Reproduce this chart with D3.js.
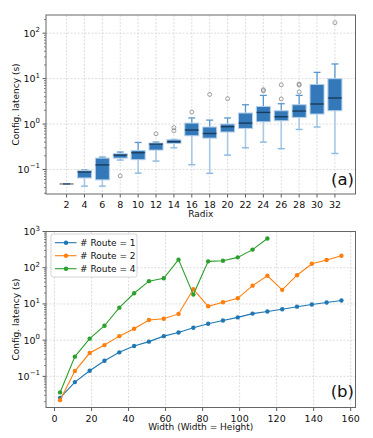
<!DOCTYPE html>
<html>
<head>
<meta charset="utf-8">
<script src="https://cdn.jsdelivr.net/npm/d3@7"></script>
<style>
  body { margin: 0; background: #fff; }
  text { font-family: "DejaVu Sans", sans-serif; fill: #111; }
</style>
</head>
<body>
<svg width="373" height="438"></svg>
<script>
  // ---- data: (a) box plot per radix ----
  const radix    = [2, 4, 6, 8, 10, 12, 14, 16, 18, 20, 22, 24, 26, 28, 30, 32];
  const whiskLo  = [0.048, 0.043, 0.043, 0.161, 0.083, 0.153, 0.30, 0.127, 0.082, 0.207, 0.30, 0.40, 0.286, 0.76, 0.86, 0.225];
  const boxQ1    = [0.048, 0.065, 0.059, 0.178, 0.164, 0.267, 0.374, 0.552, 0.49, 0.667, 0.80, 1.12, 1.18, 1.40, 1.66, 1.96];
  const boxMed   = [0.048, 0.088, 0.126, 0.207, 0.233, 0.363, 0.408, 0.738, 0.62, 0.873, 1.05, 1.80, 1.45, 1.93, 2.76, 3.74];
  const boxQ3    = [0.048, 0.094, 0.178, 0.222, 0.262, 0.381, 0.451, 1.05, 0.86, 1.00, 1.75, 2.44, 1.96, 2.66, 7.45, 9.95];
  const whiskHi  = [0.048, 0.097, 0.187, 0.242, 0.393, 0.40, 0.458, 1.36, 1.22, 1.36, 2.66, 4.27, 2.8, 4.27, 13.7, 21];
  const fliers   = [[], [], [], [0.072], [], [0.61], [0.71, 0.83], [1.84], [4.49], [3.61], [], [5.4, 5.7], [3.56, 7.3], [5.07, 7.2, 7.6], [], [170]];

  // ---- data: (b) latency vs width ----
  const widths  = [3, 11, 19, 27, 35, 43, 51, 59, 67, 75, 83, 91, 99, 107, 115, 123, 131, 139, 147, 155];
  const route1  = [0.0255, 0.0695, 0.143, 0.27, 0.46, 0.69, 0.91, 1.29, 1.63, 2.2, 2.84, 3.5, 4.25, 5.4, 6.2, 7.1, 8.4, 9.6, 10.9, 12.4];
  const route2  = [0.022, 0.14, 0.44, 0.73, 1.29, 2.06, 3.6, 3.9, 5.3, 25.5, 8.6, 11.1, 14.3, 32, 60, 24.5, 62, 129, 163, 215];
  const route4  = [0.036, 0.35, 1.1, 2.5, 7.9, 19.7, 42.5, 51, 167, 18.1, 150, 156, 193, 316, 640];
  const routeNames  = ['# Route = 1', '# Route = 2', '# Route = 4'];
  const routeColors = ['#1f77b4', '#ff7f0e', '#2ca02c'];

  const svg = d3.select('svg');

  // shared helpers for the log y axis + frame
  const drawFrame = (x, y, xTicks, yDecades, xLabel) => {
    const [x0, x1] = x.range();
    const [y0, y1] = y.range();
    const g = svg.append('g');

    // grid
    g.selectAll('.vgrid').data(xTicks).enter().append('line')
      .attr('x1', d => x(d)).attr('x2', d => x(d))
      .attr('y1', y1).attr('y2', y0)
      .attr('stroke', '#d4d4d4').attr('stroke-width', 0.8)
      .attr('stroke-dasharray', '2,1.5');
    g.selectAll('.hgrid').data(yDecades).enter().append('line')
      .attr('x1', x0).attr('x2', x1)
      .attr('y1', d => y(Math.pow(10, d))).attr('y2', d => y(Math.pow(10, d)))
      .attr('stroke', '#d4d4d4').attr('stroke-width', 0.8)
      .attr('stroke-dasharray', '2,1.5');

    // minor ticks on log axis
    const [lo, hi] = y.domain();
    const minors = [];
    for (let e = Math.floor(Math.log10(lo)); e <= Math.ceil(Math.log10(hi)); e++) {
      for (let m = 2; m <= 9; m++) {
        const v = m * Math.pow(10, e);
        if (v >= lo && v <= hi) minors.push(v);
      }
    }
    g.selectAll('.minor').data(minors).enter().append('line')
      .attr('x1', x0).attr('x2', x0 - 2)
      .attr('y1', d => y(d)).attr('y2', d => y(d))
      .attr('stroke', '#333').attr('stroke-width', 0.6);

    // major y ticks
    g.selectAll('.ymaj').data(yDecades).enter().append('line')
      .attr('x1', x0).attr('x2', x0 - 3.5)
      .attr('y1', d => y(Math.pow(10, d))).attr('y2', d => y(Math.pow(10, d)))
      .attr('stroke', '#333').attr('stroke-width', 0.8);
    const yl = g.selectAll('.ylab').data(yDecades).enter().append('text')
      .attr('x', x0 - 6).attr('y', d => y(Math.pow(10, d)) + 3.5)
      .attr('text-anchor', 'end').attr('font-size', 9.5);
    yl.append('tspan').text('10');
    yl.append('tspan').attr('dy', -4.5).attr('font-size', 7)
      .text(d => String(d).replace('-', '\u2212'));

    // x ticks
    g.selectAll('.xmaj').data(xTicks).enter().append('line')
      .attr('x1', d => x(d)).attr('x2', d => x(d))
      .attr('y1', y0).attr('y2', y0 + 3.5)
      .attr('stroke', '#333').attr('stroke-width', 0.8);
    g.selectAll('.xlab').data(xTicks).enter().append('text')
      .attr('x', d => x(d)).attr('y', y0 + 14)
      .attr('text-anchor', 'middle').attr('font-size', 9.5)
      .text(d => d);

    g.append('text').attr('x', (x0 + x1) / 2).attr('y', y0 + 22.5)
      .attr('text-anchor', 'middle').attr('font-size', 9).text(xLabel);
    g.append('text')
      .attr('transform', `translate(19,${(y0 + y1) / 2}) rotate(-90)`)
      .attr('text-anchor', 'middle').attr('font-size', 9)
      .text('Config. latency (s)');
    return g;
  };

  const drawSpines = (x, y) => {
    const [x0, x1] = x.range();
    const [y0, y1] = y.range();
    svg.append('rect').attr('x', x0).attr('y', y1)
      .attr('width', x1 - x0).attr('height', y0 - y1)
      .attr('fill', 'none').attr('stroke', '#666').attr('stroke-width', 1);
  };

  // ---------------- (a) ----------------
  const xA = d3.scaleLinear().domain([-0.3, 34.3]).range([46, 355.5]);
  const yA = d3.scaleLog().domain([Math.pow(10, -1.54), Math.pow(10, 2.4)]).range([194, 15]);
  drawFrame(xA, yA, radix, [-1, 0, 1, 2], 'Radix');

  const boxW = 14, capW = 7;
  const boxes = svg.append('g').selectAll('g').data(radix).enter().append('g');
  // lower whisker (lighter)
  boxes.append('line')
    .attr('x1', d => xA(d)).attr('x2', d => xA(d))
    .attr('y1', (d, i) => yA(boxQ1[i])).attr('y2', (d, i) => yA(whiskLo[i]))
    .attr('stroke', '#a9c9e6').attr('stroke-width', 1.6);
  boxes.append('line')
    .attr('x1', d => xA(d) - capW / 2).attr('x2', d => xA(d) + capW / 2)
    .attr('y1', (d, i) => yA(whiskLo[i])).attr('y2', (d, i) => yA(whiskLo[i]))
    .attr('stroke', '#8cb8df').attr('stroke-width', 1.4);
  // upper whisker
  boxes.append('line')
    .attr('x1', d => xA(d)).attr('x2', d => xA(d))
    .attr('y1', (d, i) => yA(boxQ3[i])).attr('y2', (d, i) => yA(whiskHi[i]))
    .attr('stroke', '#5b97cd').attr('stroke-width', 1.3);
  boxes.append('line')
    .attr('x1', d => xA(d) - capW / 2).attr('x2', d => xA(d) + capW / 2)
    .attr('y1', (d, i) => yA(whiskHi[i])).attr('y2', (d, i) => yA(whiskHi[i]))
    .attr('stroke', '#5b97cd').attr('stroke-width', 1.3);
  // box
  boxes.append('rect')
    .attr('x', d => xA(d) - boxW / 2).attr('width', boxW)
    .attr('y', (d, i) => yA(boxQ3[i]))
    .attr('height', (d, i) => yA(boxQ1[i]) - yA(boxQ3[i]))
    .attr('fill', '#3378b8').attr('stroke', '#b5d1ea').attr('stroke-width', 1);
  // median
  boxes.append('line')
    .attr('x1', d => xA(d) - boxW / 2).attr('x2', d => xA(d) + boxW / 2)
    .attr('y1', (d, i) => yA(boxMed[i])).attr('y2', (d, i) => yA(boxMed[i]))
    .attr('stroke', '#000').attr('stroke-opacity', 0.5).attr('stroke-width', 1.4);
  // fliers
  boxes.each(function (d, i) {
    d3.select(this).selectAll('circle').data(fliers[i]).enter().append('circle')
      .attr('cx', xA(d)).attr('cy', v => yA(v)).attr('r', 2)
      .attr('fill', 'none').attr('stroke', '#888').attr('stroke-width', 0.8);
  });
  drawSpines(xA, yA);
  svg.append('text').attr('x', 354).attr('y', 185)
    .attr('text-anchor', 'end').attr('font-size', 16.5).text('(a)');

  // ---------------- (b) ----------------
  const xB = d3.scaleLinear().domain([-4.6, 162.6]).range([46, 355.5]);
  const yB = d3.scaleLog().domain([Math.pow(10, -1.86), 1000]).range([407.5, 231.5]);
  drawFrame(xB, yB, [0, 20, 40, 60, 80, 100, 120, 140, 160], [-1, 0, 1, 2, 3], 'Width (Width = Height)');

  const series = [route1, route2, route4];
  const line = d3.line().x(d => xB(d[0])).y(d => yB(d[1]));
  series.forEach((vals, k) => {
    const pts = vals.map((v, i) => [widths[i], v]);
    const g = svg.append('g');
    g.append('path').attr('d', line(pts))
      .attr('fill', 'none').attr('stroke', routeColors[k]).attr('stroke-width', 1.1);
    g.selectAll('circle').data(pts).enter().append('circle')
      .attr('cx', d => xB(d[0])).attr('cy', d => yB(d[1])).attr('r', 2.2)
      .attr('fill', routeColors[k]);
  });
  drawSpines(xB, yB);

  // legend
  const lg = svg.append('g').attr('transform', 'translate(51,234)');
  lg.append('rect').attr('width', 86).attr('height', 43).attr('rx', 2)
    .attr('fill', '#fff').attr('fill-opacity', 0.85)
    .attr('stroke', '#ccc').attr('stroke-width', 0.8);
  routeNames.forEach((name, k) => {
    const yy = 8.7 + k * 13;
    lg.append('line').attr('x1', 4).attr('x2', 25.5).attr('y1', yy).attr('y2', yy)
      .attr('stroke', routeColors[k]).attr('stroke-width', 1.1);
    lg.append('circle').attr('cx', 15).attr('cy', yy).attr('r', 2.2).attr('fill', routeColors[k]);
    lg.append('text').attr('x', 29).attr('y', yy + 3.3).attr('font-size', 9).text(name);
  });

  svg.append('text').attr('x', 354).attr('y', 397)
    .attr('text-anchor', 'end').attr('font-size', 16.5).text('(b)');
</script>
</body>
</html>
